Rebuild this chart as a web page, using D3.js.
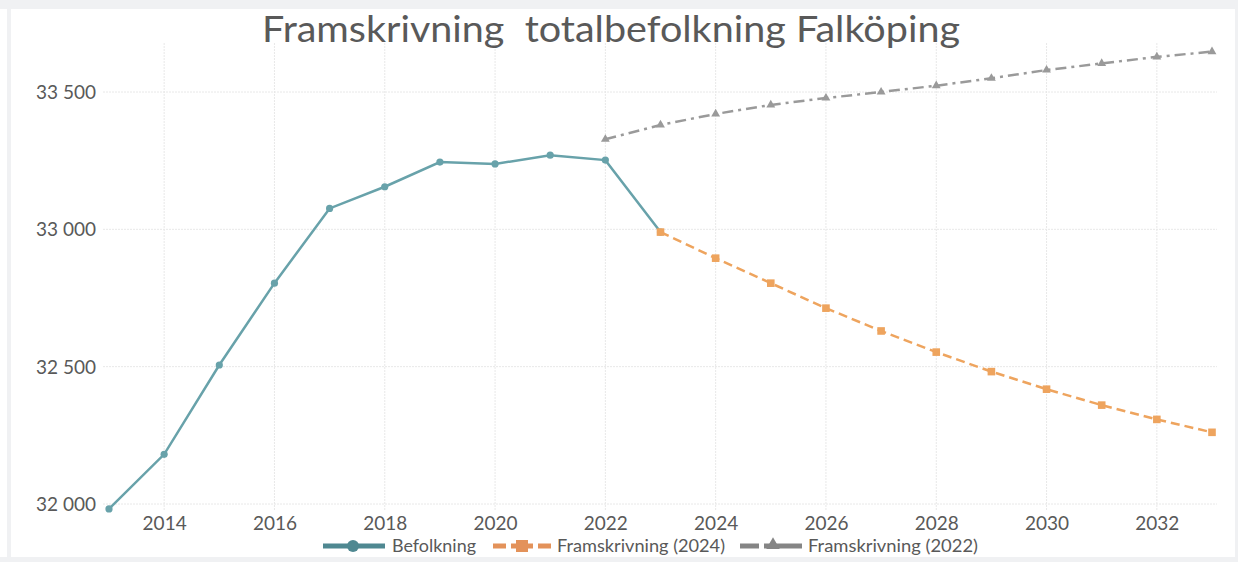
<!DOCTYPE html>
<html>
<head>
<meta charset="utf-8">
<script src="https://cdn.jsdelivr.net/npm/d3@7"></script>
<style>
  html, body { margin: 0; padding: 0; background: #fff; }
  svg { display: block; font-family: Lato, "Open Sans", sans-serif; }
  .tick text { fill: #595959; font-size: 19px; font-family: Lato, "Open Sans", sans-serif; }
</style>
</head>
<body>
<svg id="chart" width="1238" height="562"></svg>
<script>
// values
const years = [2013, 2014, 2015, 2016, 2017, 2018, 2019, 2020, 2021, 2022, 2023,
               2024, 2025, 2026, 2027, 2028, 2029, 2030, 2031, 2032, 2033];
const befolkning = [31982, 32181, 32506, 32804, 33076, 33155, 33245, 33238, 33270, 33252, 32990,
                    null, null, null, null, null, null, null, null, null, null];
const fram2024 = [null, null, null, null, null, null, null, null, null, null, 32990,
                  32895, 32804, 32713, 32630, 32553, 32482, 32418, 32360, 32308, 32261];
const fram2022 = [null, null, null, null, null, null, null, null, null, 33328, 33380,
                  33420, 33453, 33478, 33500, 33523, 33550, 33580, 33604, 33628, 33647];
const xTicks = [2014, 2016, 2018, 2020, 2022, 2024, 2026, 2028, 2030, 2032];
const yTicks = [32000, 32500, 33000, 33500];
const title = "Framskrivning  totalbefolkning Falköping";

const svg = d3.select("#chart");
const W = 1238, H = 562;

// frame of the pasted image: light grey strips around
svg.append("rect").attr("width", W).attr("height", H).attr("fill", "#fff");
svg.append("rect").attr("x", 0).attr("y", 0).attr("width", W).attr("height", 9).attr("fill", "#f0f1f3");
svg.append("rect").attr("x", 7).attr("y", 0).attr("width", 4).attr("height", H).attr("fill", "#f0f1f3");
svg.append("rect").attr("x", 1235).attr("y", 0).attr("width", 3).attr("height", H).attr("fill", "#f0f1f3");
svg.append("rect").attr("x", 0).attr("y", 557).attr("width", W).attr("height", 5).attr("fill", "#f0f1f3");

const x = d3.scaleLinear().domain([2013, 2033]).range([109, 1212]);
const y = d3.scaleLinear().domain([32000, 33500]).range([504, 92]);
const plotL = 103, plotR = 1217, plotT = 43, plotB = 510;

// grid
svg.append("g").selectAll("line").data(xTicks).join("line")
  .attr("x1", d => x(d)).attr("x2", d => x(d))
  .attr("y1", plotT).attr("y2", plotB)
  .attr("stroke", "#e8e8e8").attr("stroke-width", 1).attr("stroke-dasharray", "2,1");
svg.append("g").selectAll("line").data(yTicks).join("line")
  .attr("x1", plotL).attr("x2", plotR)
  .attr("y1", d => y(d)).attr("y2", d => y(d))
  .attr("stroke", "#e8e8e8").attr("stroke-width", 1).attr("stroke-dasharray", "2,1");

// axes (labels only)
const fmt = d => d3.format(",")(d).replace(",", " ");
const yAxis = svg.append("g").attr("transform", "translate(96,0)")
  .call(d3.axisLeft(y).tickValues(yTicks).tickSize(0).tickPadding(0).tickFormat(fmt));
yAxis.attr("font-family", null).attr("font-size", null);
yAxis.select(".domain").remove();
yAxis.selectAll("text").attr("dy", "0.35em");

const xAxis = svg.append("g").attr("transform", `translate(0,${511})`)
  .call(d3.axisBottom(x).tickValues(xTicks).tickSize(0).tickPadding(0).tickFormat(d3.format("d")));
xAxis.attr("font-family", null).attr("font-size", null);
xAxis.select(".domain").remove();
xAxis.selectAll("text").attr("dy", "0.35em").attr("y", 12);

// title
svg.append("text")
  .attr("x", 611).attr("y", 42)
  .attr("text-anchor", "middle")
  .attr("font-size", 36)
  .attr("fill", "#595959")
  .attr("textLength", 698).attr("lengthAdjust", "spacingAndGlyphs")
  .attr("xml:space", "preserve")
  .text(title);

const teal = "#68a2aa", orange = "#eea45e", grey = "#9a9a9a";

function seriesPts(vals) {
  return years.map((yr, i) => ({ yr, v: vals[i] })).filter(d => d.v != null);
}
const line = d3.line().x(d => x(d.yr)).y(d => y(d.v));

// Framskrivning (2022)
const g22 = seriesPts(fram2022);
svg.append("path").attr("d", line(g22)).attr("fill", "none")
  .attr("stroke", grey).attr("stroke-width", 2.5).attr("stroke-dasharray", "11,5,3,5");
svg.append("g").selectAll("path").data(g22).join("path")
  .attr("transform", d => `translate(${x(d.yr)},${y(d.v)})`)
  .attr("d", d3.symbol(d3.symbolTriangle, 34)).attr("fill", grey);

// Befolkning
const gb = seriesPts(befolkning);
svg.append("path").attr("d", line(gb)).attr("fill", "none")
  .attr("stroke", teal).attr("stroke-width", 2.5);
svg.append("g").selectAll("circle").data(gb).join("circle")
  .attr("cx", d => x(d.yr)).attr("cy", d => y(d.v)).attr("r", 3.6).attr("fill", teal);

// Framskrivning (2024)
const g24 = seriesPts(fram2024);
svg.append("path").attr("d", line(g24)).attr("fill", "none")
  .attr("stroke", orange).attr("stroke-width", 2.5).attr("stroke-dasharray", "9,5");
svg.append("g").selectAll("rect").data(g24).join("rect")
  .attr("x", d => x(d.yr) - 3.8).attr("y", d => y(d.v) - 3.8)
  .attr("width", 7.6).attr("height", 7.6).attr("fill", orange);

// legend
const legY = 546;
const leg = svg.append("g").attr("font-size", 18).attr("fill", "#595959");
// Befolkning
leg.append("line").attr("x1", 323).attr("x2", 385).attr("y1", legY).attr("y2", legY)
  .attr("stroke", "#4f8891").attr("stroke-width", 5);
leg.append("circle").attr("cx", 353).attr("cy", legY).attr("r", 6).attr("fill", "#4f8891");
leg.append("text").attr("x", 392).attr("y", legY).attr("dy", "0.35em")
  .attr("textLength", 84).attr("lengthAdjust", "spacingAndGlyphs").text("Befolkning");
// Framskrivning (2024)
leg.append("line").attr("x1", 493).attr("x2", 553).attr("y1", legY).attr("y2", legY)
  .attr("stroke", "#e3925a").attr("stroke-width", 5).attr("stroke-dasharray", "13,5,22,5,13,3,2");
leg.append("rect").attr("x", 516).attr("y", legY - 6).attr("width", 12).attr("height", 12).attr("fill", "#e3925a");
leg.append("text").attr("x", 557).attr("y", legY).attr("dy", "0.35em")
  .attr("textLength", 168).attr("lengthAdjust", "spacingAndGlyphs").text("Framskrivning (2024)");
// Framskrivning (2022)
leg.append("line").attr("x1", 740).attr("x2", 802).attr("y1", legY).attr("y2", legY)
  .attr("stroke", "#858585").attr("stroke-width", 5).attr("stroke-dasharray", "19,5,40");
leg.append("path").attr("transform", `translate(773,${legY - 1})`)
  .attr("d", d3.symbol(d3.symbolTriangle, 80)).attr("fill", "#858585");
leg.append("text").attr("x", 808).attr("y", legY).attr("dy", "0.35em")
  .attr("textLength", 170).attr("lengthAdjust", "spacingAndGlyphs").text("Framskrivning (2022)");
</script>
</body>
</html>
